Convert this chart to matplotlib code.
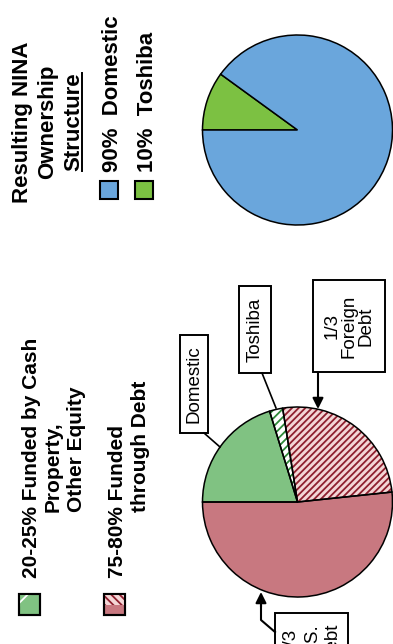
import matplotlib
matplotlib.use("Agg")
import matplotlib.pyplot as plt
from matplotlib.patches import Rectangle, Polygon

plt.rcParams['font.family'] = ['Liberation Sans', 'DejaVu Sans']
plt.rcParams['hatch.linewidth'] = 1.3

# resulting NINA ownership (upper pie)
owner_labels = ["Toshiba", "Domestic"]
owner_share = [10, 90]
owner_colors = ["#7cc142", "#6aa6dc"]

# funding of the project (lower pie), equity 22.5 / debt 77.5
fund_labels = ["U.S. Debt", "Foreign Debt", "Toshiba", "Domestic"]
fund_share = [51.67, 25.83, 2.25, 20.25]
fund_colors = ["#c87880", "#f4d6d6", "#ffffff", "#80c282"]
fund_hatch = [None, "/////", "////", None]
fund_hatch_colors = ["#c87880", "#8e1f2e", "#2f8a3a", "#80c282"]

W, H = 393, 644
fig = plt.figure(figsize=(W / 100, H / 100), dpi=100)
ax = fig.add_axes([0, 0, 1, 1])

# y axis is flipped below, so angles run the other way round
up_c, up_r = (297.5, 130), 95
w1, _ = ax.pie(owner_share, colors=owner_colors, center=up_c, radius=up_r,
               startangle=180, counterclock=True,
               wedgeprops=dict(edgecolor="black", linewidth=1.1))

lo_c, lo_r = (297.5, 502), 95
w2, _ = ax.pie(fund_share, colors=fund_colors, center=lo_c, radius=lo_r,
               startangle=180, counterclock=False,
               wedgeprops=dict(linewidth=0))
for w, h, hc in zip(w2, fund_hatch, fund_hatch_colors):
    w.set_edgecolor(hc)
    w.set_linewidth(0)
    if h:
        w.set_hatch(h)
ax.pie(fund_share, center=lo_c, radius=lo_r, startangle=180, counterclock=False,
       wedgeprops=dict(fill=False, edgecolor="black", linewidth=1.1))

ax.set_xlim(0, W)
ax.set_ylim(H, 0)
ax.axis("off")


def rtext(x, y, s, size, weight="bold", ha="left"):
    return ax.text(x, y, s, rotation=90, rotation_mode="anchor", ha=ha,
                   va="baseline", fontsize=size, fontweight=weight)


# upper legend
rtext(28, 122, "Resulting NINA", 16, ha="center")
rtext(53, 122, "Ownership", 16, ha="center")
st = rtext(79, 122, "Structure", 16, ha="center")
rtext(118, 172, "90%  Domestic", 16)
rtext(153, 172, "10%  Toshiba", 16)
ax.add_patch(Rectangle((99.5, 180.5), 18, 18, facecolor=owner_colors[1],
                       edgecolor="black", linewidth=1.5))
ax.add_patch(Rectangle((135, 180.5), 18, 18, facecolor=owner_colors[0],
                       edgecolor="black", linewidth=1.5))

# underline "Structure"
fig.canvas.draw()
bb = st.get_window_extent().transformed(ax.transData.inverted())
ax.plot([81.5, 81.5], [bb.y0, bb.y1], color="black", linewidth=1.4)

# lower legend
rtext(37, 578, "20-25% Funded by Cash", 15)
rtext(59, 512, "Property,", 15)
rtext(82, 512, "Other Equity", 15)
rtext(123, 578, "75-80% Funded", 15)
rtext(146, 512, "through Debt", 15)

ax.add_patch(Rectangle((19, 594), 21, 21, facecolor=fund_colors[3],
                       edgecolor="black", linewidth=1.5))
ax.add_patch(Polygon([(19, 594), (33, 594), (19, 608)], closed=True,
                     facecolor=fund_colors[3], edgecolor="white",
                     hatch="///", linewidth=0))
ax.add_patch(Rectangle((19, 594), 21, 21, fill=False, edgecolor="black",
                       linewidth=1.5))

ax.add_patch(Rectangle((104, 594), 21, 21, facecolor=fund_colors[0],
                       edgecolor="black", linewidth=1.5))
ax.add_patch(Rectangle((104, 594), 21, 11, facecolor=fund_colors[1],
                       edgecolor=fund_hatch_colors[1], hatch="\\\\\\\\",
                       linewidth=0))
ax.add_patch(Rectangle((104, 594), 21, 21, fill=False, edgecolor="black",
                       linewidth=1.5))

# callout boxes: (corner, width, height, text, text centre, line spacing)
boxes = [
    ((180, 335), 28, 98, "Domestic", (194, 384), 1.0),
    ((239, 286), 32, 87, "Toshiba", (255, 329.5), 1.0),
    ((313, 280), 72, 92, "1/3\nForeign\nDebt", (349, 326), 1.0),
    ((275, 613), 73, 90, "2/3\nU.S.\nDebt", (311.5, 642), 1.3),
]
for (x0, y0), bw, bh, s, (tx, ty), ls in boxes:
    ax.add_patch(Rectangle((x0, y0), bw, bh, facecolor="white",
                           edgecolor="black", linewidth=1.4))
    ax.text(tx, ty, s, rotation=90, ha="center", va="center",
            multialignment="center", fontsize=13.5, linespacing=ls)

# leader lines
ax.plot([204, 220], [433, 447], color="black", linewidth=1.2)
ax.plot([262, 276], [373, 408], color="black", linewidth=1.2)
ax.annotate("", xy=(318, 409), xytext=(318, 372),
            arrowprops=dict(arrowstyle="-|>", color="black", lw=1.5,
                            mutation_scale=16, shrinkA=0, shrinkB=0))
ax.plot([275, 261, 261], [632, 620, 606], color="black", linewidth=1.5)
ax.annotate("", xy=(261, 592), xytext=(261, 607),
            arrowprops=dict(arrowstyle="-|>", color="black", lw=1.5,
                            mutation_scale=16, shrinkA=0, shrinkB=0))

fig.savefig("out.png", dpi=100)
